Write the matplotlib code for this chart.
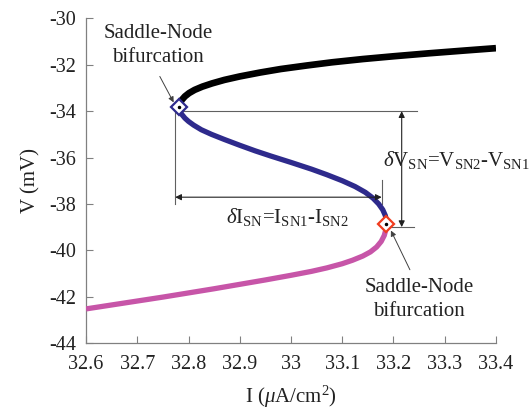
import matplotlib
matplotlib.use("Agg")
import matplotlib.pyplot as plt

plt.rcParams['font.family'] = ['Liberation Serif', 'DejaVu Serif']
plt.rcParams['mathtext.fontset'] = 'custom'
plt.rcParams['mathtext.rm'] = 'Liberation Serif'
plt.rcParams['mathtext.it'] = 'Liberation Serif:italic'
plt.rcParams['axes.unicode_minus'] = False

# stable upper branch (black)
upper_I = [32.781, 32.783, 32.787, 32.793, 32.801, 32.812, 32.827, 32.846, 32.87, 32.90,
           32.94, 32.98, 33.03, 33.08, 33.14, 33.20, 33.27, 33.34, 33.40]
upper_V = [-33.80, -33.66, -33.51, -33.36, -33.22, -33.08, -32.94, -32.80, -32.65, -32.50,
           -32.33, -32.18, -32.03, -31.89, -31.75, -31.63, -31.50, -31.38, -31.28]

# unstable middle branch (blue)
middle_I = [32.781, 32.783, 32.787, 32.793, 32.80, 32.81, 32.825, 32.845, 32.87, 32.90,
            32.93, 32.96, 33.00, 33.04, 33.07, 33.10, 33.125, 33.145, 33.16, 33.171,
            33.179, 33.184, 33.186, 33.186]
middle_V = [-33.80, -33.98, -34.14, -34.30, -34.44, -34.60, -34.80, -35.00, -35.22, -35.47,
            -35.71, -35.93, -36.21, -36.50, -36.74, -37.00, -37.25, -37.50, -37.75, -38.00,
            -38.25, -38.50, -38.70, -38.85]

# stable lower branch (pink)
lower_I = [33.186, 33.185, 33.182, 33.176, 33.167, 33.155, 33.14, 33.12, 33.10, 33.07,
           33.04, 33.00, 32.95, 32.90, 32.85, 32.80, 32.75, 32.70, 32.65, 32.60]
lower_V = [-38.85, -39.12, -39.36, -39.62, -39.86, -40.07, -40.25, -40.43, -40.58, -40.76,
           -40.91, -41.08, -41.28, -41.47, -41.66, -41.84, -42.02, -42.19, -42.36, -42.53]

# saddle-node points
sn1 = (32.781, -33.80)
sn2 = (33.186, -38.85)

x_ticks = [32.6, 32.7, 32.8, 32.9, 33.0, 33.1, 33.2, 33.3, 33.4]
x_labels = ['32.6', '32.7', '32.8', '32.9', '33', '33.1', '33.2', '33.3', '33.4']
y_ticks = [-30, -32, -34, -36, -38, -40, -42, -44]

fig = plt.figure(figsize=(5.29, 4.11), dpi=100)
ax = fig.add_axes([0.1626, 0.1655, 0.775, 0.7895])

ax.plot(upper_I, upper_V, color='black', lw=4.8, solid_capstyle='butt', zorder=3)
ax.plot(middle_I, middle_V, color='#2e2a8c', lw=3.8, solid_capstyle='butt', zorder=3)
ax.plot(lower_I, lower_V, color='#c755a8', lw=3.8, solid_capstyle='butt', zorder=3)

ax.plot(*sn1, marker='D', ms=8, mfc='white', mec='#2e2a8c', mew=1.6, zorder=5)
ax.plot(*sn1, marker='.', ms=3, color='black', zorder=6)
ax.plot(*sn2, marker='D', ms=8, mfc='white', mec='#f03c1e', mew=1.6, zorder=5)
ax.plot(*sn2, marker='.', ms=3, color='black', zorder=6)

gray = '#606060'
lw_thin = 0.8
# guide lines for delta I
ax.plot([32.774, 32.774], [-34.0, -38.0], color=gray, lw=lw_thin, zorder=2)
ax.plot([33.177, 33.177], [-36.95, -38.0], color=gray, lw=lw_thin, zorder=2)
ax.annotate('', xy=(32.774, -37.71), xytext=(33.177, -37.71),
            arrowprops=dict(arrowstyle='<|-|>', color='#202020', lw=lw_thin,
                            mutation_scale=9, shrinkA=0, shrinkB=0))
# guide lines for delta V
ax.plot([32.787, 33.245], [-34.0, -34.0], color=gray, lw=lw_thin, zorder=2)
ax.plot([33.195, 33.24], [-39.0, -39.0], color=gray, lw=lw_thin, zorder=2)
ax.annotate('', xy=(33.216, -34.0), xytext=(33.216, -39.0),
            arrowprops=dict(arrowstyle='<|-|>', color='#202020', lw=lw_thin,
                            mutation_scale=9, shrinkA=0, shrinkB=0))

txt = '#222222'
ax.text(32.992, -38.56, r'$\delta$I$_{\rm SN}$=I$_{\rm SN1}$-I$_{\rm SN2}$',
        fontsize=15, color=txt, ha='center', va='center')
ax.text(33.18, -36.1, r'$\delta$V$_{\rm SN}$=V$_{\rm SN2}$-V$_{\rm SN1}$',
        fontsize=15, color=txt, ha='left', va='center')

# saddle-node labels with pointer arrows
ax.text(32.74, -31.16, 'Saddle-Node\nbifurcation', fontsize=15, color=txt,
        ha='center', va='center', linespacing=1.35)
ax.annotate('', xy=(32.771, -33.62), xytext=(32.744, -32.5),
            arrowprops=dict(arrowstyle='-|>', color='#404040', lw=0.7,
                            mutation_scale=8, shrinkA=0, shrinkB=0))
ax.text(33.25, -42.11, 'Saddle-Node\nbifurcation', fontsize=15, color=txt,
        ha='center', va='center', linespacing=1.35)
ax.annotate('', xy=(33.195, -39.15), xytext=(33.232, -40.84),
            arrowprops=dict(arrowstyle='-|>', color='#404040', lw=0.7,
                            mutation_scale=8, shrinkA=0, shrinkB=0))

ax.set_xlim(32.6, 33.4)
ax.set_ylim(-44, -30)
ax.set_xticks(x_ticks)
ax.set_xticklabels(x_labels)
ax.set_yticks(y_ticks)
ax.tick_params(direction='in', length=5, width=0.8, color='#808080',
               labelsize=14.5, labelcolor=txt)
ax.tick_params(axis='x', pad=9)
ax.tick_params(axis='y', pad=7)
for side in ('top', 'right'):
    ax.spines[side].set_visible(False)
for side in ('left', 'bottom'):
    ax.spines[side].set_color('#808080')
    ax.spines[side].set_linewidth(0.9)

ax.set_xlabel(r'I ($\mu$A/cm$^2$)', fontsize=15, color=txt, labelpad=7)
ax.set_ylabel('V (mV)', fontsize=15, color=txt, labelpad=6)

fig.savefig('out.png', dpi=100)
